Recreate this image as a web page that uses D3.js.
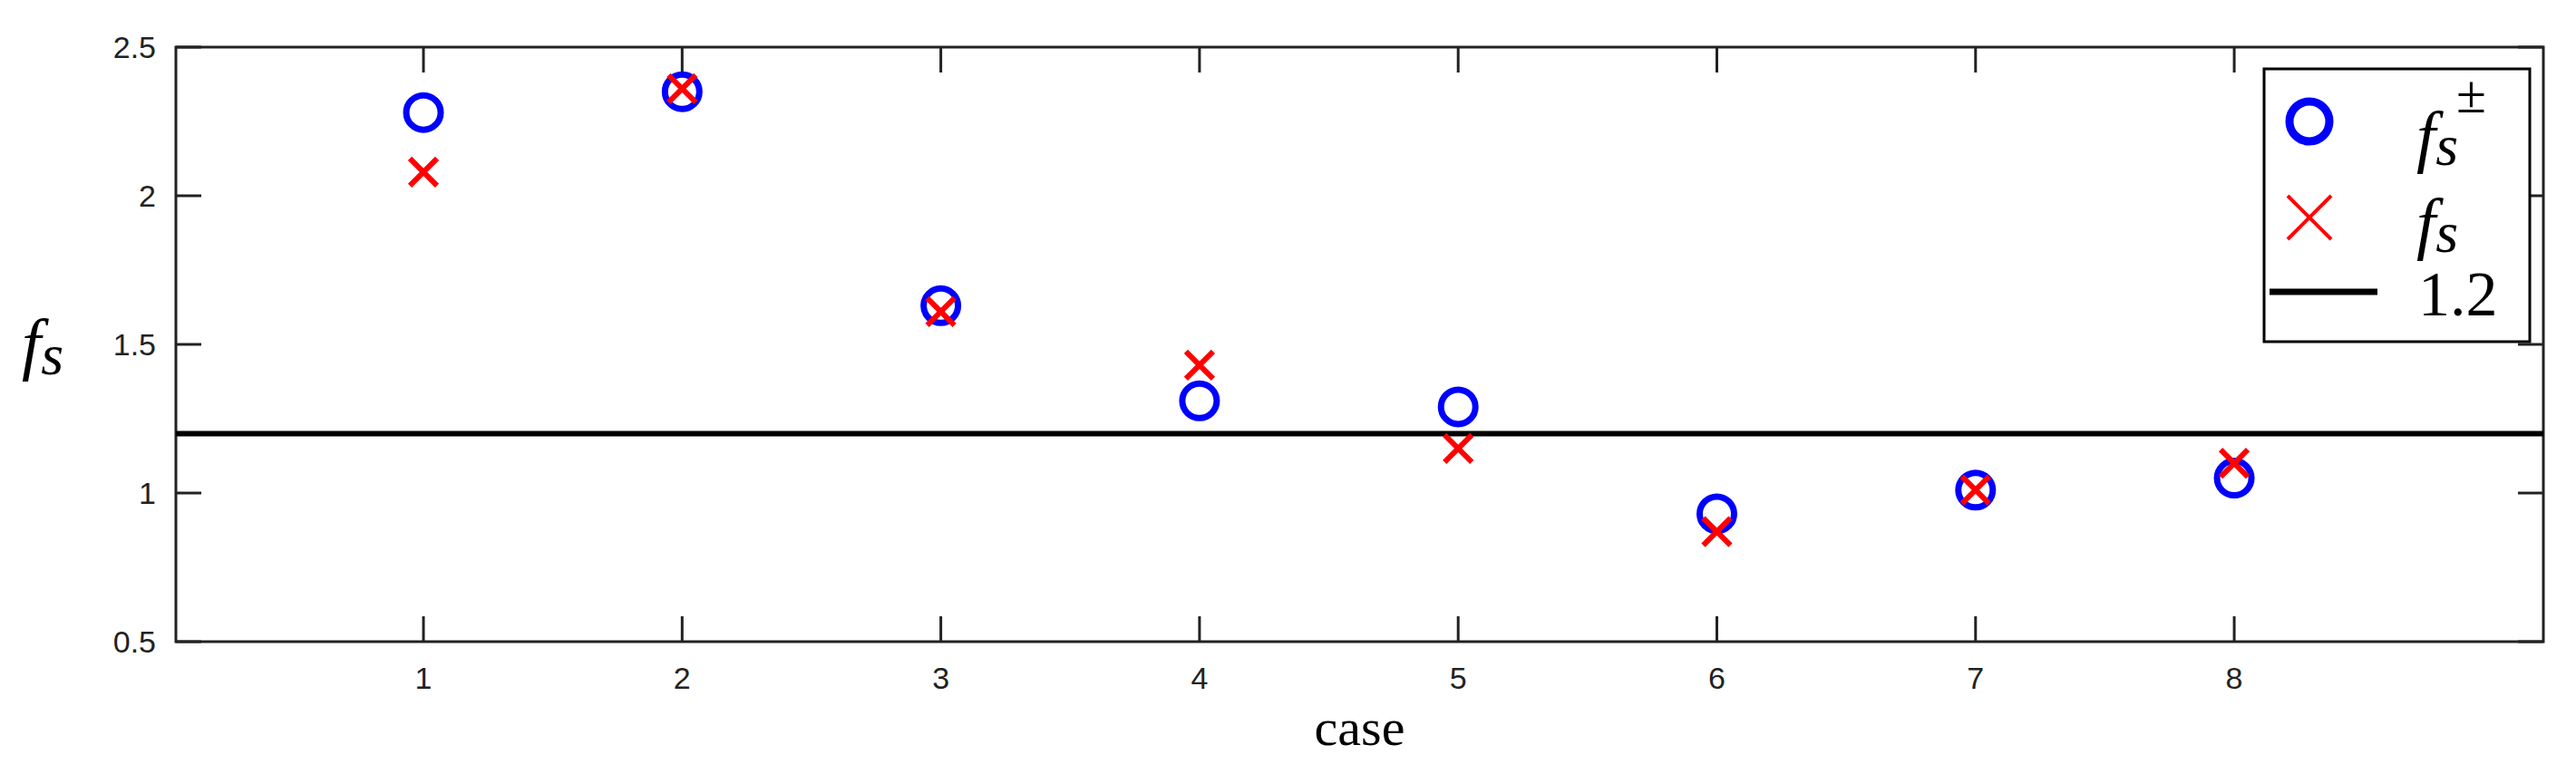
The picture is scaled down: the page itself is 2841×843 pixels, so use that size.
<!DOCTYPE html><html><head><meta charset="utf-8">
<script src="https://cdn.jsdelivr.net/npm/d3@7"></script>
<style>body{margin:0;background:#fff}</style></head><body>
<svg id="c" width="2841" height="843"></svg>
<script>
const cases=[1,2,3,4,5,6,7,8];
const fsPM=[2.28,2.35,1.63,1.31,1.29,0.93,1.01,1.05];
const fsX=[2.08,2.36,1.61,1.43,1.15,0.87,1.01,1.10];
const threshold=1.2;
const yTicks=[0.5,1,1.5,2,2.5];
const L=194,R=2805,T=52,B=708;
const svg=d3.select("#c");
const x=d3.scaleLinear().domain([0.043,9.195]).range([L,R]);
const y=d3.scaleLinear().domain([0.5,2.5]).range([B,T]);
const g=svg.append("g");
g.append("rect").attr("x",L).attr("y",T).attr("width",R-L).attr("height",B-T).attr("fill","none").attr("stroke","#222").attr("stroke-width",3);
const tl=28;
cases.forEach(c=>{g.append("line").attr("x1",x(c)).attr("x2",x(c)).attr("y1",B).attr("y2",B-tl).attr("stroke","#222").attr("stroke-width",3);
g.append("line").attr("x1",x(c)).attr("x2",x(c)).attr("y1",T).attr("y2",T+tl).attr("stroke","#222").attr("stroke-width",3);
g.append("text").attr("x",x(c)).attr("y",B+52).attr("text-anchor","middle").attr("font-family","Liberation Sans Narrow, Liberation Sans").attr("font-size",34).attr("fill","#222").text(c);});
yTicks.forEach(v=>{g.append("line").attr("x1",L).attr("x2",L+tl).attr("y1",y(v)).attr("y2",y(v)).attr("stroke","#222").attr("stroke-width",3);
g.append("line").attr("x1",R).attr("x2",R-tl).attr("y1",y(v)).attr("y2",y(v)).attr("stroke","#222").attr("stroke-width",3);
g.append("text").attr("x",L-22).attr("y",y(v)+12).attr("text-anchor","end").attr("font-family","Liberation Sans Narrow, Liberation Sans").attr("font-size",34).attr("fill","#222").text(v);});
g.append("line").attr("x1",L).attr("x2",R).attr("y1",y(threshold)).attr("y2",y(threshold)).attr("stroke","#000").attr("stroke-width",6);
cases.forEach((c,i)=>{g.append("circle").attr("cx",x(c)).attr("cy",y(fsPM[i])).attr("r",19).attr("fill","none").attr("stroke","#0000ff").attr("stroke-width",7);});
function cross(cx,cy,s,w){const p=d3.path();p.moveTo(cx-s,cy-s);p.lineTo(cx+s,cy+s);p.moveTo(cx-s,cy+s);p.lineTo(cx+s,cy-s);
g.append("path").attr("d",p.toString()).attr("stroke","#ff0000").attr("stroke-width",w).attr("fill","none");}
cases.forEach((c,i)=>cross(x(c),y(fsX[i]),15,6));
g.append("text").attr("x",(L+R)/2).attr("y",822).attr("text-anchor","middle").attr("font-family","Liberation Serif").attr("font-size",58).text("case");
const fl=g.append("text").attr("x",24).attr("y",405).attr("font-family","Liberation Serif").attr("font-style","italic").attr("font-size",76);
fl.append("tspan").text("f");fl.append("tspan").attr("font-size",64).attr("dy",8).text("s");
const lx=2497,ly=76,lw=293,lh=301;
g.append("rect").attr("x",lx).attr("y",ly).attr("width",lw).attr("height",lh).attr("fill","#fff").attr("stroke","#000").attr("stroke-width",3);
g.append("circle").attr("cx",lx+50).attr("cy",ly+58).attr("r",22).attr("fill","none").attr("stroke","#0000ff").attr("stroke-width",9);
cross(lx+50,ly+164,24,4);
g.append("line").attr("x1",lx+6).attr("x2",lx+125).attr("y1",ly+246).attr("y2",ly+246).attr("stroke","#000").attr("stroke-width",7);
const t1=g.append("text").attr("x",lx+168).attr("y",ly+100).attr("font-family","Liberation Serif").attr("font-style","italic").attr("font-size",76);
t1.append("tspan").text("f");t1.append("tspan").attr("font-size",64).attr("dy",6).text("s");
t1.append("tspan").attr("font-style","normal").attr("font-size",60).attr("dy",-58).attr("dx",-2).text("±");
const t2=g.append("text").attr("x",lx+168).attr("y",ly+196).attr("font-family","Liberation Serif").attr("font-style","italic").attr("font-size",76);
t2.append("tspan").text("f");t2.append("tspan").attr("font-size",64).attr("dy",6).text("s");
g.append("text").attr("x",lx+170).attr("y",ly+272).attr("font-family","Liberation Serif").attr("font-size",70).text("1.2");
</script></body></html>
